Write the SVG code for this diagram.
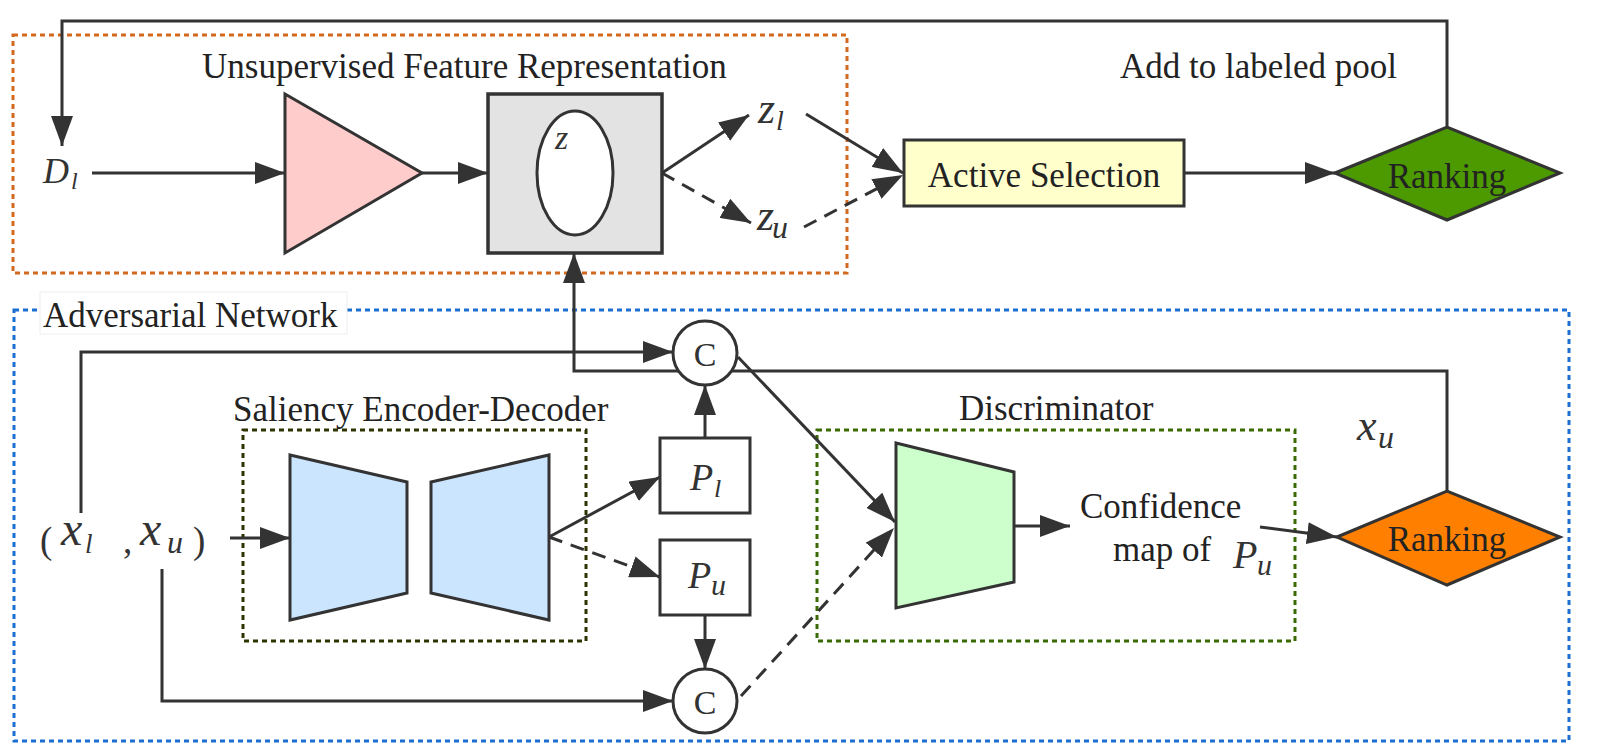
<svg xmlns="http://www.w3.org/2000/svg" width="1605" height="753" viewBox="0 0 1605 753">
<style>
.t{font-family:"Liberation Serif","Times New Roman",serif;font-size:35px;fill:#222}
.m{font-family:"Liberation Serif","Times New Roman",serif;font-style:italic;fill:#333}
.u{font-family:"Liberation Serif","Times New Roman",serif;fill:#333}
.c{fill:none;stroke:#333;stroke-width:3}
.d{stroke-dasharray:14 9}
.nd{stroke:#333;stroke-width:3}
.box{fill:none;stroke-width:3;stroke-dasharray:5 4}
</style>
<defs>
<marker id="ah" markerUnits="userSpaceOnUse" markerWidth="30" markerHeight="22" refX="30" refY="11" orient="auto">
<path d="M0,0 L30,11 L0,22 z" fill="#333"/>
</marker>
</defs>
<rect width="1605" height="753" fill="#fff"/>

<g id="containers">
<rect id="unsup-box" x="13" y="35" width="834" height="238" class="box" stroke="#D2691E"/>
<rect id="adv-box" x="14" y="310" width="1555" height="431" class="box" stroke="#1a6fd0"/>
<rect id="sal-box" x="243" y="430" width="343" height="211" class="box" stroke="#2f3300"/>
<rect id="disc-box" x="817" y="430" width="478" height="211" class="box" stroke="#3a6b00"/>
<rect x="40" y="292" width="307" height="42" fill="#fff" stroke="#eeeeee" stroke-width="1"/>
<text class="t" x="43" y="327">Adversarial Network</text>
<text class="t" x="202" y="78">Unsupervised Feature Representation</text>
<text class="t" x="233" y="421">Saliency Encoder-Decoder</text>
<text class="t" x="959" y="420">Discriminator</text>
</g>

<g id="connectors">
<polyline class="c" points="1447,127 1447,21 62,21 62,146" marker-end="url(#ah)"/>
<line class="c" x1="92" y1="173" x2="285" y2="173" marker-end="url(#ah)"/>
<line class="c" x1="422" y1="173" x2="488" y2="173" marker-end="url(#ah)"/>
<line class="c" x1="662" y1="173" x2="749" y2="115" marker-end="url(#ah)"/>
<line class="c d" x1="662" y1="173" x2="751" y2="223" marker-end="url(#ah)"/>
<line class="c" x1="806" y1="114" x2="903" y2="173" marker-end="url(#ah)"/>
<line class="c d" x1="804" y1="227" x2="903" y2="175" marker-end="url(#ah)"/>
<line class="c" x1="1184" y1="173" x2="1335" y2="173" marker-end="url(#ah)"/>
<polyline class="c" points="1447,491 1447,371 574,371 574,253" marker-end="url(#ah)"/>
<polyline class="c" points="81,513 81,352 673,352" marker-end="url(#ah)"/>
<polyline class="c" points="162,569 162,701 673,701" marker-end="url(#ah)"/>
<line class="c" x1="230" y1="538" x2="290" y2="538" marker-end="url(#ah)"/>
<line class="c" x1="549" y1="537" x2="660" y2="477" marker-end="url(#ah)"/>
<line class="c d" x1="549" y1="537" x2="660" y2="577" marker-end="url(#ah)"/>
<line class="c" x1="705" y1="438" x2="705" y2="385" marker-end="url(#ah)"/>
<line class="c" x1="705" y1="615" x2="705" y2="669" marker-end="url(#ah)"/>
<line class="c" x1="738" y1="357" x2="895" y2="522" marker-end="url(#ah)"/>
<line class="c d" x1="741" y1="696" x2="894" y2="528" marker-end="url(#ah)"/>
<line class="c" x1="1014" y1="526" x2="1070" y2="526" marker-end="url(#ah)"/>
<line class="c" x1="1260" y1="527" x2="1337" y2="537" marker-end="url(#ah)"/>
</g>

<g id="Dl"><text class="m" x="43" y="183" font-size="36">D</text><text class="m" x="71" y="189" font-size="24">l</text></g>
<g id="encoder-tri"><polygon points="285,94 422,173 285,253" fill="#FFCCCC" class="nd"/></g>
<g id="latent">
<rect x="488" y="94" width="174" height="159" fill="#E3E3E3" stroke="#333" stroke-width="3.5"/>
<ellipse cx="575" cy="173" rx="38" ry="62" fill="#fff" class="nd"/>
<text class="m" x="555" y="149" font-size="34">z</text>
</g>
<g id="zl"><text class="m" x="758" y="123" font-size="44">z</text><text class="m" x="776" y="130" font-size="28">l</text></g>
<g id="zu"><text class="m" x="757" y="230" font-size="44">z</text><text class="m" x="772" y="238" font-size="32">u</text></g>
<g id="active-selection">
<rect x="904" y="140" width="280" height="66" fill="#FFFFCC" class="nd"/>
<text class="t" x="1044" y="187" text-anchor="middle">Active Selection</text>
</g>
<g id="ranking-top">
<polygon points="1335,173 1447,127 1560,173 1447,220" fill="#4C9900" class="nd"/>
<text class="t" x="1447" y="188" text-anchor="middle">Ranking</text>
</g>
<text class="t" x="1120" y="78">Add to labeled pool</text>

<g id="xlxu">
<text class="u" x="40" y="553" font-size="37">(</text>
<text class="m" x="61" y="545" font-size="48">x</text><text class="m" x="85" y="553" font-size="27">l</text>
<text class="u" x="123" y="553" font-size="37">,</text>
<text class="m" x="140" y="545" font-size="48">x</text><text class="m" x="167" y="553" font-size="32">u</text>
<text class="u" x="193" y="553" font-size="37">)</text>
</g>
<g id="encoder"><polygon points="290,455 407,482 407,593 290,620" fill="#CCE5FF" class="nd"/></g>
<g id="decoder"><polygon points="431,482 549,455 549,620 431,593" fill="#CCE5FF" class="nd"/></g>
<g id="Pl"><rect x="660" y="438" width="90" height="75" fill="#fff" class="nd"/><text class="m" x="690" y="490" font-size="38">P</text><text class="m" x="714" y="497" font-size="26">l</text></g>
<g id="Pu"><rect x="660" y="540" width="90" height="75" fill="#fff" class="nd"/><text class="m" x="688" y="588" font-size="38">P</text><text class="m" x="711" y="595" font-size="30">u</text></g>
<g id="C1"><circle cx="705" cy="353" r="32" fill="#fff" class="nd"/><text class="u" x="705" y="366" font-size="34" text-anchor="middle">C</text></g>
<g id="C2"><circle cx="705" cy="701" r="32" fill="#fff" class="nd"/><text class="u" x="705" y="714" font-size="34" text-anchor="middle">C</text></g>
<g id="discriminator"><polygon points="896,443 1014,472 1014,582 896,608" fill="#CCFFCC" class="nd"/></g>
<g id="confidence">
<text class="t" x="1080" y="518">Confidence</text>
<text class="t" x="1113" y="561">map of</text>
<text class="m" x="1233" y="568" font-size="40">P</text><text class="m" x="1257" y="575" font-size="30">u</text>
</g>
<g id="xu-label"><text class="m" x="1357" y="440" font-size="44">x</text><text class="m" x="1378" y="448" font-size="32">u</text></g>
<g id="ranking-bottom">
<polygon points="1337,537 1447,491 1560,537 1447,585" fill="#FF8000" class="nd"/>
<text class="t" x="1447" y="551" text-anchor="middle">Ranking</text>
</g>
</svg>
